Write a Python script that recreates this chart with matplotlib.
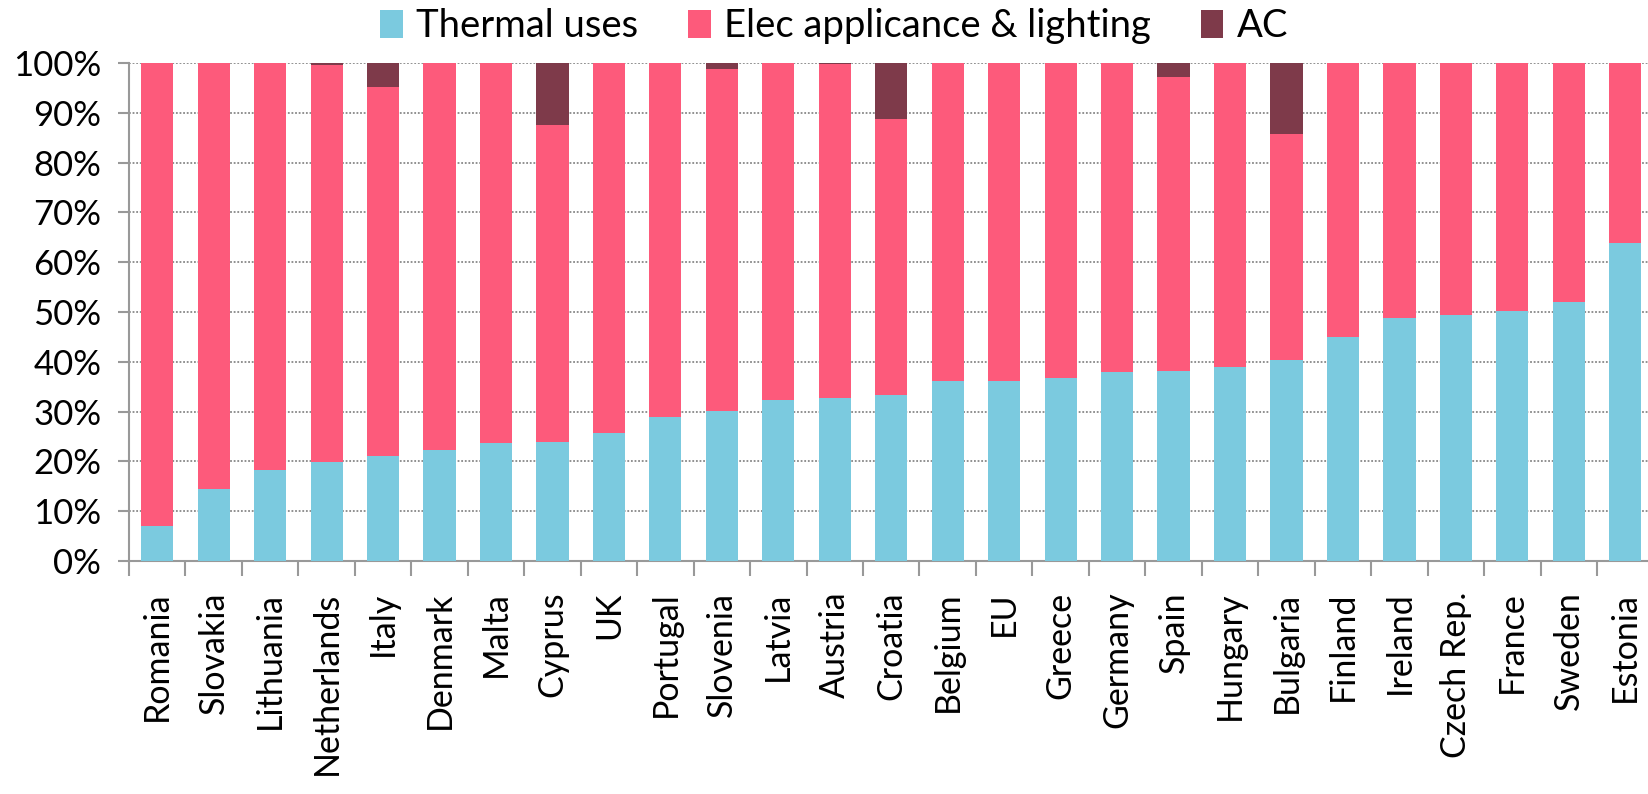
import numpy as np
import matplotlib.pyplot as plt

countries = ['Romania', 'Slovakia', 'Lithuania', 'Netherlands', 'Italy', 'Denmark',
             'Malta', 'Cyprus', 'UK', 'Portugal', 'Slovenia', 'Latvia', 'Austria',
             'Croatia', 'Belgium', 'EU', 'Greece', 'Germany', 'Spain', 'Hungary',
             'Bulgaria', 'Finland', 'Ireland', 'Czech Rep.', 'France', 'Sweden', 'Estonia']

# shares in %
thermal = [7.0, 14.5, 18.3, 19.8, 21.0, 22.3, 23.7, 23.9, 25.8, 29.0, 30.2, 32.3, 32.8,
           33.3, 36.2, 36.2, 36.8, 38.0, 38.1, 38.9, 40.4, 45.0, 48.7, 49.3, 50.3, 52.0, 63.8]
ac = [0, 0, 0, 0.5, 4.9, 0, 0, 12.4, 0, 0, 1.2, 0, 0.3,
      11.2, 0, 0, 0, 0, 2.8, 0, 14.3, 0, 0, 0, 0, 0, 0]

thermal = np.array(thermal)
ac = np.array(ac)
elec = 100 - thermal - ac

c_thermal = '#7BCADF'
c_elec = '#FD5A7B'
c_ac = '#7E3A4A'

plt.rcParams['font.family'] = ['Lato', 'DejaVu Sans']

W, H = 1648, 794
fig = plt.figure(figsize=(W / 100, H / 100), dpi=100)
# axes placed in pixel terms: left spine at x=129, 0% at y=561, 100% at y=63
left, right = 129, 1653.5
ax = fig.add_axes([left / W, (H - 561) / H, (right - left) / W, (561 - 63) / H])

n = len(countries)
x = np.arange(n)
bw = 0.57
ax.bar(x, thermal, bw, color=c_thermal, label='Thermal uses', zorder=3)
ax.bar(x, elec, bw, bottom=thermal, color=c_elec, label='Elec applicance & lighting', zorder=3)
ax.bar(x, ac, bw, bottom=thermal + elec, color=c_ac, label='AC', zorder=3)

ax.set_xlim(-0.5, n - 0.5)
ax.set_ylim(0, 100)
ax.set_yticks(np.arange(0, 101, 10))
ax.set_yticklabels([f'{v}%' for v in range(0, 101, 10)])
ax.yaxis.grid(True, linestyle=(0, (1, 1)), color='#888888', linewidth=1.3, zorder=0)

ax.set_xticks(x)
ax.set_xticklabels(countries, rotation=90, va='top', ha='center')
ax.set_xticks(np.arange(-0.5, n - 0.4, 1), minor=True)
ax.tick_params(axis='x', which='major', length=0, pad=22, labelsize=24.5)
ax.tick_params(axis='x', which='minor', length=11, width=1.5, color='#999999')
ax.tick_params(axis='y', length=8, width=1.5, color='#999999', labelsize=25, pad=12)

for s in ['top', 'right']:
    ax.spines[s].set_visible(False)
for s in ['left', 'bottom']:
    ax.spines[s].set_color('#999999')
    ax.spines[s].set_linewidth(1.5)

fig.legend(loc='center', bbox_to_anchor=(834 / W, 1 - 26 / H), ncol=3, frameon=False,
           fontsize=27.5, handlelength=0.6, handleheight=0.75, handletextpad=0.35,
           columnspacing=1.3, borderaxespad=0)

fig.savefig('out.png', dpi=100)
